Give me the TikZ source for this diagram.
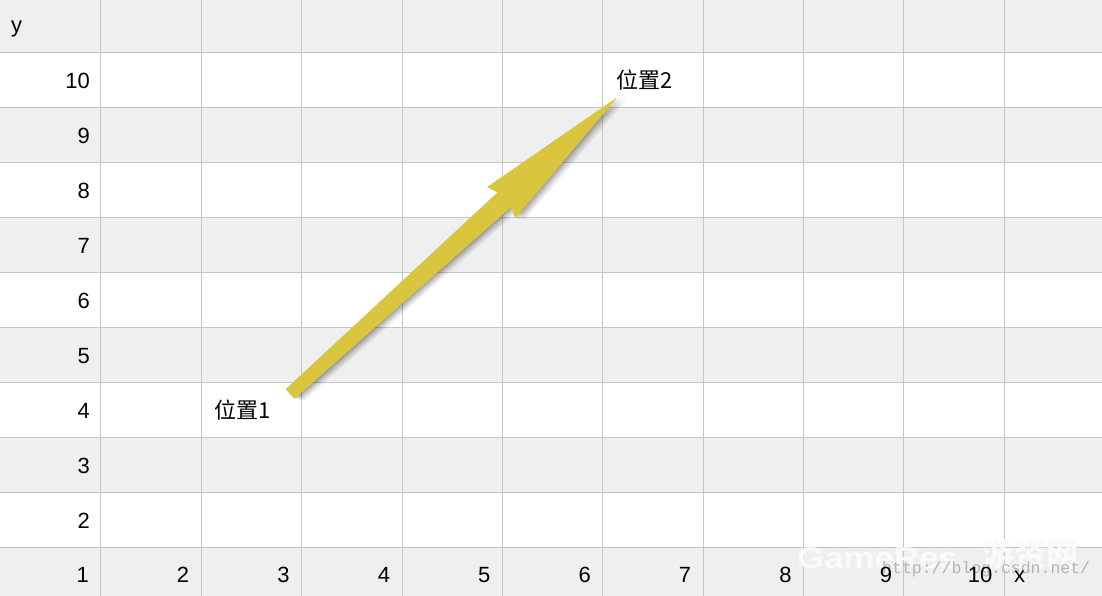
\documentclass[tikz,border=0pt]{standalone}
\usepackage{graphicx}
\usepackage{fontspec}
\setmainfont{Liberation Sans}
\newfontfamily\cjk{Noto Sans CJK SC}
\newfontfamily\monof{Liberation Mono}
\usetikzlibrary{calc}
\definecolor{bandgray}{HTML}{EFEFEF}
\definecolor{gridgray}{HTML}{C6C6C6}
\definecolor{arrowyellow}{HTML}{D9C63E}
\definecolor{wmgray}{HTML}{B4B4B4}
\definecolor{wmwhite}{HTML}{FAFAFA}
\tikzset{
  lab/.style={font=\fontsize{22}{26}\selectfont, text=black, inner sep=0pt},
  rowlab/.style={lab, anchor=base east},
  collab/.style={lab, anchor=base east},
  poslab/.style={font=\cjk\fontsize{22}{26}\selectfont, text=black, inner sep=0pt},
  gridline/.style={draw=gridgray, line width=1pt},
  wmbig/.style={font=\bfseries\fontsize{30}{34}\selectfont, inner sep=0pt, anchor=base west, text=wmwhite},
  wmcjk/.style={font=\cjk\bfseries\fontsize{32}{36}\selectfont, inner sep=0pt, anchor=base west, text=wmwhite},
}
\newcommand{\arrowpath}{(0,-6.5) -- (289,-10) -- (285,-21) -- (441.7,0) -- (285,21) -- (289,10) -- (0,6.5) -- cycle}
\begin{document}
\begin{tikzpicture}[x=1pt,y=1pt]
\useasboundingbox (0,0) rectangle (1102,596);
\fill[white] (0,0) rectangle (1102,596);
% gray bands (image y from top)
\foreach \a/\b in {0/53,108/163,218/273,328/383,438/493,548/596}
  \fill[bandgray] (0,596-\a) rectangle (1102,596-\b);
% horizontal grid lines
\foreach \h in {53,108,163,218,273,328,383,438,493,548}
  \draw[gridline] (0,596-\h) -- (1102,596-\h);
% vertical grid lines
\foreach \v in {100.5,201,301.5,402,502,602.5,703,803,903.5,1004}
  \draw[gridline] (\v,0) -- (\v,596);
% watermark
\node[wmbig] (wm1) at (797,596-569) {\scalebox{1.16}[1]{GameRes}};
\node[wmcjk] (wm2) at (982,596-567) {游资网};
\node[font=\monof\fontsize{16.5}{20}\selectfont, text=wmgray, inner sep=0pt, anchor=base west] (wm3) at (882,596-574) {http://blog.csdn.net/};
% row labels
\node[lab, anchor=base west] (ylab) at (11,596-33) {y};
\foreach \n [count=\i from 0] in {10,9,8,7,6,5,4,3,2}
  \node[rowlab] (r\n) at (90,596-89-55*\i) {\n};
% bottom labels
\foreach \n [count=\i from 0] in {1,2,3,4,5,6,7,8,9,10}
  \node[collab] (c\n) at (89+100.4*\i,596-583) {\n};
\node[lab, anchor=base west] (xlab) at (1014,596-583) {x};
% position labels
\node[poslab] (p1) at (243,596-410) {位置1};
\node[poslab] (p2) at (645,596-80) {位置2};
% arrow from position 1 to position 2
\coordinate (tail) at (290,596-394);
\coordinate (tip) at (618,596-97);
\begin{scope}[shift={(tail)}, rotate=42.2]
  \foreach \k/\op in {1/0.10,2/0.09,3/0.08,4/0.06,5/0.05}
    \fill[black, opacity=\op, shift={(1.2*\k,-1.6*\k)}] \arrowpath;
  \fill[arrowyellow] \arrowpath;
\end{scope}
\end{tikzpicture}
\end{document}
